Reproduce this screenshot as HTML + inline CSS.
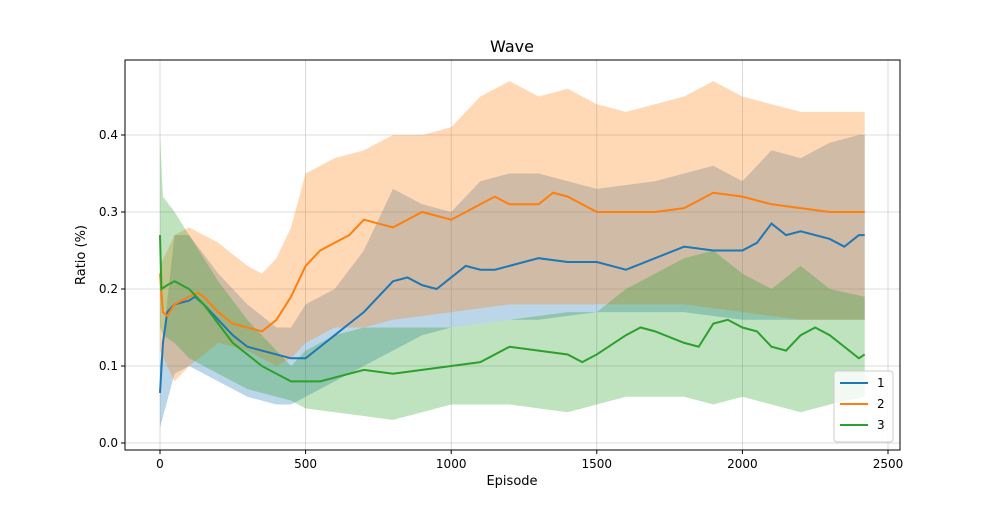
<!DOCTYPE html>
<html><head><meta charset="utf-8"><style>
body{margin:0;background:#fff;font-family:"Liberation Sans","DejaVu Sans",sans-serif}
svg text{font-family:"DejaVu Sans","Liberation Sans",sans-serif;fill:#000}
</style></head><body>
<svg id="chart" width="1000" height="500" xmlns="http://www.w3.org/2000/svg">
<g id="grid"></g><g id="bands"></g><g id="lines"></g><g id="axes"></g>
</svg>
<script>
const xTicks=[0,500,1000,1500,2000,2500];
const yTicks=[0.0,0.1,0.2,0.3,0.4];
const yTickLabels=["0.0","0.1","0.2","0.3","0.4"];
const seriesNames=["1","2","3"];
const colors=["#1f77b4","#ff7f0e","#2ca02c"];

const ep1=[0,10,25,50,100,120,150,200,250,300,350,400,450,500,550,600,650,700,750,800,850,900,950,1000,1050,1100,1150,1200,1300,1400,1500,1600,1700,1800,1900,2000,2050,2100,2150,2200,2300,2350,2400,2420];
const mean1=[0.065,0.13,0.17,0.18,0.185,0.19,0.18,0.16,0.14,0.125,0.12,0.115,0.11,0.11,0.125,0.14,0.155,0.17,0.19,0.21,0.215,0.205,0.2,0.215,0.23,0.225,0.225,0.23,0.24,0.235,0.235,0.225,0.24,0.255,0.25,0.25,0.26,0.285,0.27,0.275,0.265,0.255,0.27,0.27];
const bandEp1=[0,50,100,200,300,400,450,500,600,700,800,900,1000,1100,1200,1300,1500,1700,1800,1900,2000,2100,2200,2300,2400,2420];
const low1=[0.02,0.09,0.1,0.08,0.06,0.05,0.05,0.06,0.08,0.1,0.12,0.14,0.15,0.155,0.16,0.16,0.17,0.17,0.17,0.165,0.16,0.16,0.16,0.16,0.16,0.16];
const up1=[0.1,0.27,0.27,0.22,0.18,0.15,0.15,0.18,0.2,0.25,0.33,0.31,0.3,0.34,0.35,0.35,0.33,0.34,0.35,0.36,0.34,0.38,0.37,0.39,0.4,0.4];

const ep2=[0,10,25,50,100,130,150,200,250,300,350,400,450,500,550,600,650,700,750,800,850,900,1000,1050,1100,1150,1200,1300,1350,1400,1500,1600,1700,1800,1900,2000,2100,2200,2300,2400,2420];
const mean2=[0.22,0.17,0.165,0.18,0.19,0.195,0.19,0.17,0.155,0.15,0.145,0.16,0.19,0.23,0.25,0.26,0.27,0.29,0.285,0.28,0.29,0.3,0.29,0.3,0.31,0.32,0.31,0.31,0.325,0.32,0.3,0.3,0.3,0.305,0.325,0.32,0.31,0.305,0.3,0.3,0.3];
const bandEp2=[0,50,100,200,300,350,400,450,500,600,700,800,900,1000,1100,1200,1300,1400,1500,1600,1700,1800,1900,2000,2100,2200,2300,2420];
const low2=[0.12,0.08,0.1,0.13,0.12,0.11,0.1,0.11,0.13,0.15,0.15,0.16,0.165,0.17,0.175,0.18,0.18,0.18,0.18,0.18,0.18,0.18,0.175,0.17,0.165,0.16,0.16,0.16];
const up2=[0.23,0.27,0.28,0.26,0.23,0.22,0.24,0.28,0.35,0.37,0.38,0.4,0.4,0.41,0.45,0.47,0.45,0.46,0.44,0.43,0.44,0.45,0.47,0.45,0.44,0.43,0.43,0.43];

const ep3=[0,5,25,50,100,150,200,250,300,350,400,450,500,550,600,700,800,900,1000,1100,1200,1300,1400,1450,1500,1600,1650,1700,1800,1850,1900,1950,2000,2050,2100,2150,2200,2250,2300,2350,2400,2420];
const mean3=[0.27,0.2,0.205,0.21,0.2,0.18,0.155,0.13,0.115,0.1,0.09,0.08,0.08,0.08,0.085,0.095,0.09,0.095,0.1,0.105,0.125,0.12,0.115,0.105,0.115,0.14,0.15,0.145,0.13,0.125,0.155,0.16,0.15,0.145,0.125,0.12,0.14,0.15,0.14,0.125,0.11,0.115];
const bandEp3=[0,10,50,100,200,300,400,450,500,600,700,800,900,1000,1200,1400,1500,1600,1700,1800,1900,2000,2100,2200,2300,2420];
const low3=[0.15,0.14,0.13,0.11,0.09,0.07,0.06,0.055,0.045,0.04,0.035,0.03,0.04,0.05,0.05,0.04,0.05,0.06,0.06,0.06,0.05,0.06,0.05,0.04,0.05,0.06];
const up3=[0.4,0.32,0.3,0.27,0.21,0.16,0.12,0.1,0.12,0.14,0.15,0.15,0.15,0.15,0.16,0.17,0.17,0.2,0.22,0.24,0.25,0.22,0.2,0.23,0.2,0.19];

const X0=125,X1=900,Y0=60,Y1=450;
const sx=v=>160+v*(888-160)/2500;
const sy=v=>443-v*770;
const NS="http://www.w3.org/2000/svg";
function mk(tag,attrs,parent){const e=document.createElementNS(NS,tag);for(const k in attrs)e.setAttribute(k,attrs[k]);parent.appendChild(e);return e;}
const grid=document.getElementById('grid'),bands=document.getElementById('bands'),lines=document.getElementById('lines'),axes=document.getElementById('axes');

xTicks.forEach(t=>{const l=mk('line',{x1:sx(t),x2:sx(t),y1:Y0,y2:Y1,stroke:'#b0b0b0','stroke-width':0.8,'stroke-opacity':0.6},grid);

});
yTicks.forEach(t=>{const l=mk('line',{x1:X0,x2:X1,y1:sy(t),y2:sy(t),stroke:'#b0b0b0','stroke-width':0.8,'stroke-opacity':0.6},grid);

});

const allEp=[ep1,ep2,ep3],allMean=[mean1,mean2,mean3],allBE=[bandEp1,bandEp2,bandEp3],allLow=[low1,low2,low3],allUp=[up1,up2,up3];
for(let i=0;i<3;i++){
  const be=allBE[i];let d='';
  be.forEach((e,j)=>{d+=(j?'L':'M')+sx(e)+','+sy(allUp[i][j]);});
  for(let j=be.length-1;j>=0;j--)d+='L'+sx(be[j])+','+sy(allLow[i][j]);
  const p=mk('path',{d:d+'Z',fill:colors[i],'fill-opacity':0.3},bands);
  
  
}
for(let i=0;i<3;i++){
  const pts=allEp[i].map((e,j)=>sx(e)+','+sy(allMean[i][j])).join(' ');
  const pl=mk('polyline',{points:pts,fill:'none',stroke:colors[i],'stroke-width':2},lines);
  
  
}
const fr=mk('rect',{x:X0,y:Y0,width:X1-X0,height:Y1-Y0,fill:'none',stroke:'#000','stroke-width':1},axes);


xTicks.forEach(t=>{mk('line',{x1:sx(t),x2:sx(t),y1:Y1,y2:Y1+4,stroke:'#000'},axes);
const tx=mk('text',{x:sx(t),y:Y1+18,'text-anchor':'middle','font-size':12},axes);tx.textContent=t;

});
yTicks.forEach((t,i)=>{mk('line',{x1:X0-4,x2:X0,y1:sy(t),y2:sy(t),stroke:'#000'},axes);
const tx=mk('text',{x:X0-7,y:sy(t)+4,'text-anchor':'end','font-size':12},axes);tx.textContent=yTickLabels[i];

});
const ti=mk('text',{x:512,y:52,'text-anchor':'middle','font-size':16},axes);ti.textContent='Wave';


const xl=mk('text',{x:512,y:485,'text-anchor':'middle','font-size':13},axes);xl.textContent='Episode';


const yl=mk('text',{x:85,y:255,'text-anchor':'middle','font-size':13,transform:'rotate(-90 85 255)'},axes);yl.textContent='Ratio (%)';


const lg=mk('g',{},axes);


mk('rect',{x:834,y:371,width:59,height:71,rx:3,fill:'#fff','fill-opacity':0.8,stroke:'#ccc'},lg);
seriesNames.forEach((n,i)=>{const y=383+i*21;
const ln=mk('line',{x1:840,x2:868,y1:y,y2:y,stroke:colors[i],'stroke-width':2},lg);


const t=mk('text',{x:877,y:y+4,'font-size':12},lg);t.textContent=n;

});
</script>
</body></html>
